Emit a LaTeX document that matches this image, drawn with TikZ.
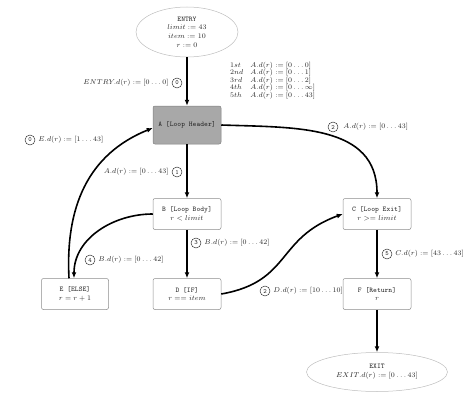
\documentclass[tikz,border=0pt]{standalone}
\usetikzlibrary{arrows.meta,shapes.geometric}
\newcommand\myfs{\fontsize{7.2}{8.7}\selectfont}
\definecolor{boxline}{HTML}{8C8C8C}
\definecolor{ellline}{HTML}{BDBDBD}
\definecolor{hdrfill}{HTML}{A8A8A8}
\definecolor{txt}{HTML}{262626}
\tikzset{
  box/.style={draw=boxline, rounded corners=2pt, minimum width=68pt, minimum height=31pt,
    align=center, font=\myfs, text=txt, inner sep=1pt, line width=0.5pt},
  ell/.style={ellipse, draw=ellline, align=center, font=\myfs, text=txt, inner sep=0pt, line width=0.5pt},
  flow/.style={line width=1.6pt, -{Latex[length=6pt,width=5pt]}},
  lab/.style={font=\myfs, text=txt, inner sep=0pt},
  num/.style={circle, draw=txt, line width=0.45pt, minimum size=10pt, inner sep=0pt,
    font=\fontsize{6.5}{7}\selectfont\ttfamily, text=txt},
}
\begin{document}
\begin{tikzpicture}[x=1pt,y=1pt]
\useasboundingbox (0,0) rectangle (474,400);
% nodes
\node[ell, minimum width=102pt, minimum height=50pt] (entry) at (187,368)
  {\texttt{ENTRY}\\ $limit := 43$\\ $item := 10$\\ $r := 0$};
\node[box, fill=hdrfill, draw=gray, minimum height=38pt] (A) at (187,275) {\texttt{A [Loop Header]}};
\node[box] (B) at (187,186) {\texttt{B [Loop Body]}\\ $r < limit$};
\node[box] (C) at (377,186) {\texttt{C [Loop Exit]}\\ $r >= limit$};
\node[box] (D) at (187,106) {\texttt{D [IF]}\\ $r == item$};
\node[box, minimum width=67pt] (E) at (75,106) {\texttt{E [ELSE]}\\ $r = r + 1$};
\node[box] (F) at (377,106) {\texttt{F [Return]}\\ $r$};
\node[ell, minimum width=141pt, minimum height=39pt] (exit) at (377,28)
  {\texttt{EXIT}\\ $EXIT.d(r) := [0\ldots43]$};
% edges
\draw[flow] (entry.south) -- (A.north);
\draw[flow] (A.south) -- (B.north);
\draw[flow] (B.south) -- (D.north);
\draw[flow] (C.south) -- (F.north);
\draw[flow] (F.south) -- (exit.north);
\draw[flow] (A.east) to[out=-2,in=90,looseness=1.1] (C.north);
\draw[flow] (B.west) to[out=180,in=90] ([xshift=-1pt]E.north);
\draw[flow] ([xshift=-6pt]E.north) to[out=93,in=202,looseness=1.05] ([yshift=-3pt]A.west);
\draw[flow] (D.east) to[out=10,in=200,looseness=1.25] (C.west);
% labels
\node[num] (n0) at (177,317) {0};
\node[lab, anchor=east] (l0) at ([xshift=-3pt]n0.west) {$ENTRY.d(r) := [0\ldots0]$};
\node[lab, anchor=north west] (list) at (230,338) {\fontsize{7.2}{7.3}\selectfont
  \begin{tabular}{@{}l@{\hspace{7pt}}l@{}}
  $1st$ & $A.d(r) := [0\ldots0]$\\
  $2nd$ & $A.d(r) := [0\ldots1]$\\
  $3rd$ & $A.d(r) := [0\ldots2]$\\
  $4th$ & $A.d(r) := [0\ldots\infty]$\\
  $5th$ & $A.d(r) := [0\ldots43]$
  \end{tabular}};
\node[num] (n0b) at (30,260) {0};
\node[lab, anchor=west] (l0b) at ([xshift=3pt]n0b.east) {$E.d(r) := [1\ldots43]$};
\node[num] (n1) at (177,228) {1};
\node[lab, anchor=east] (l1) at ([xshift=-3pt]n1.west) {$A.d(r) := [0\ldots43]$};
\node[num] (n2) at (333,273) {2};
\node[lab, anchor=west] (l2) at ([xshift=5pt]n2.east) {$A.d(r) := [0\ldots43]$};
\node[num] (n3) at (196,157) {3};
\node[lab, anchor=west] (l3) at ([xshift=3pt]n3.east) {$B.d(r) := [0\ldots42]$};
\node[num] (n4) at (90,140) {4};
\node[lab, anchor=west] (l4) at ([xshift=3pt]n4.east) {$B.d(r) := [0\ldots42]$};
\node[num] (n2b) at (265,109) {2};
\node[lab, anchor=west] (l2b) at ([xshift=3pt]n2b.east) {$D.d(r) := [10\ldots10]$};
\node[num] (n5) at (387,146) {5};
\node[lab, anchor=west] (l5) at ([xshift=3pt]n5.east) {$C.d(r) := [43\ldots43]$};
\end{tikzpicture}
\end{document}
